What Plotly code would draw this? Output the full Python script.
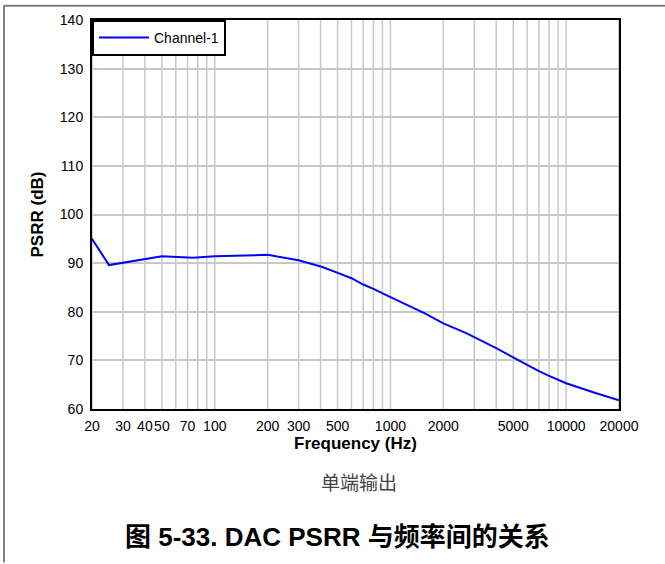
import plotly.graph_objects as go

# PSRR vs frequency
freq_hz = [20, 25, 50, 75, 100, 200, 300, 410, 510, 600, 700, 800, 1000, 1180,
           1560, 2000, 2700, 4000, 5000, 7000, 8000, 10000, 14400, 20000]
psrr_db = [95.0, 89.6, 91.4, 91.1, 91.4, 91.7, 90.6, 89.2, 87.9, 86.9, 85.6, 84.7,
           83.0, 81.8, 79.7, 77.6, 75.6, 72.5, 70.6, 67.8, 66.8, 65.3, 63.4, 61.8]

tick_vals = [20, 30, 40, 50, 70, 100, 200, 300, 500, 1000, 2000, 5000, 10000, 20000]
grid_vals = [20, 30, 40, 50, 60, 70, 80, 90, 100, 200, 300, 400, 500, 600, 700, 800,
             900, 1000, 2000, 3000, 4000, 5000, 6000, 7000, 8000, 9000, 10000, 20000]

font = "Liberation Sans, Arial, sans-serif"
cjk = "Liberation Sans, Noto Sans CJK SC, sans-serif"

# plot area in pixels
L, R, T, B = 92, 619, 16, 409
W, H = 665, 564
pw, ph = R - L, B - T


def px(x):
    return (x - L) / pw


def py(y):
    return (B - y) / ph


fig = go.Figure()
fig.add_trace(go.Scatter(
    x=freq_hz, y=psrr_db, mode="lines", name="Channel-1",
    line=dict(color="#0000ff", width=2),
))

fig.update_xaxes(
    type="log", range=[1.30103, 4.30103],
    tickvals=tick_vals, ticktext=[str(v) for v in tick_vals],
    showgrid=False, ticks="", zeroline=False, tickangle=0,
    tickfont=dict(family=font, size=14, color="black"),
    ticklabelstandoff=3,
    title=dict(text="<b>Frequency (Hz)</b>", font=dict(family=font, size=17, color="black"), standoff=1),
    showline=True, linecolor="black", linewidth=2, mirror=True,
)
fig.update_yaxes(
    range=[60, 140], dtick=10,
    showgrid=True, gridcolor="#c8c8c8", gridwidth=1.5,
    ticks="", zeroline=False,
    tickfont=dict(family=font, size=14, color="black"),
    ticklabelstandoff=4,
    title=dict(text="<b>PSRR (dB)</b>", font=dict(family=font, size=17, color="black"), standoff=12),
    showline=True, linecolor="black", linewidth=2, mirror=True,
)

# vertical log grid lines
for g in grid_vals:
    fig.add_shape(type="line", xref="x", yref="paper", x0=g, x1=g, y0=0, y1=1,
                  line=dict(color="#c8c8c8", width=1.5), layer="below")

# outer frame (top and left edges)
fig.add_shape(type="line", xref="paper", yref="paper", x0=px(4), x1=px(665), y0=py(1.5), y1=py(1.5),
              line=dict(color="#808080", width=2))
fig.add_shape(type="line", xref="paper", yref="paper", x0=px(4), x1=px(4), y0=py(1), y1=py(564),
              line=dict(color="#808080", width=2))

fig.add_annotation(text="单端输出", xref="paper", yref="paper", x=px(359), y=py(482),
                   xanchor="center", yanchor="middle", showarrow=False,
                   font=dict(family="Noto Sans CJK SC, sans-serif", size=19, color="#444444"))
fig.add_annotation(text="<b>图 5-33. DAC PSRR 与频率间的关系</b>", xref="paper", yref="paper",
                   x=px(337), y=py(538), xanchor="center", yanchor="middle", showarrow=False,
                   font=dict(family=cjk, size=26, color="black"))

fig.update_layout(
    width=W, height=H,
    margin=dict(l=L, r=W - R, t=T, b=H - B),
    paper_bgcolor="white", plot_bgcolor="white",
    showlegend=True,
    legend=dict(x=0, y=1, xanchor="left", yanchor="top", itemwidth=50,
                bgcolor="white", bordercolor="black", borderwidth=2,
                font=dict(family=font, size=14, color="black")),
)

fig.write_html("out.html", config={"displayModeBar": False},
               post_script="document.body.style.margin='0';")
